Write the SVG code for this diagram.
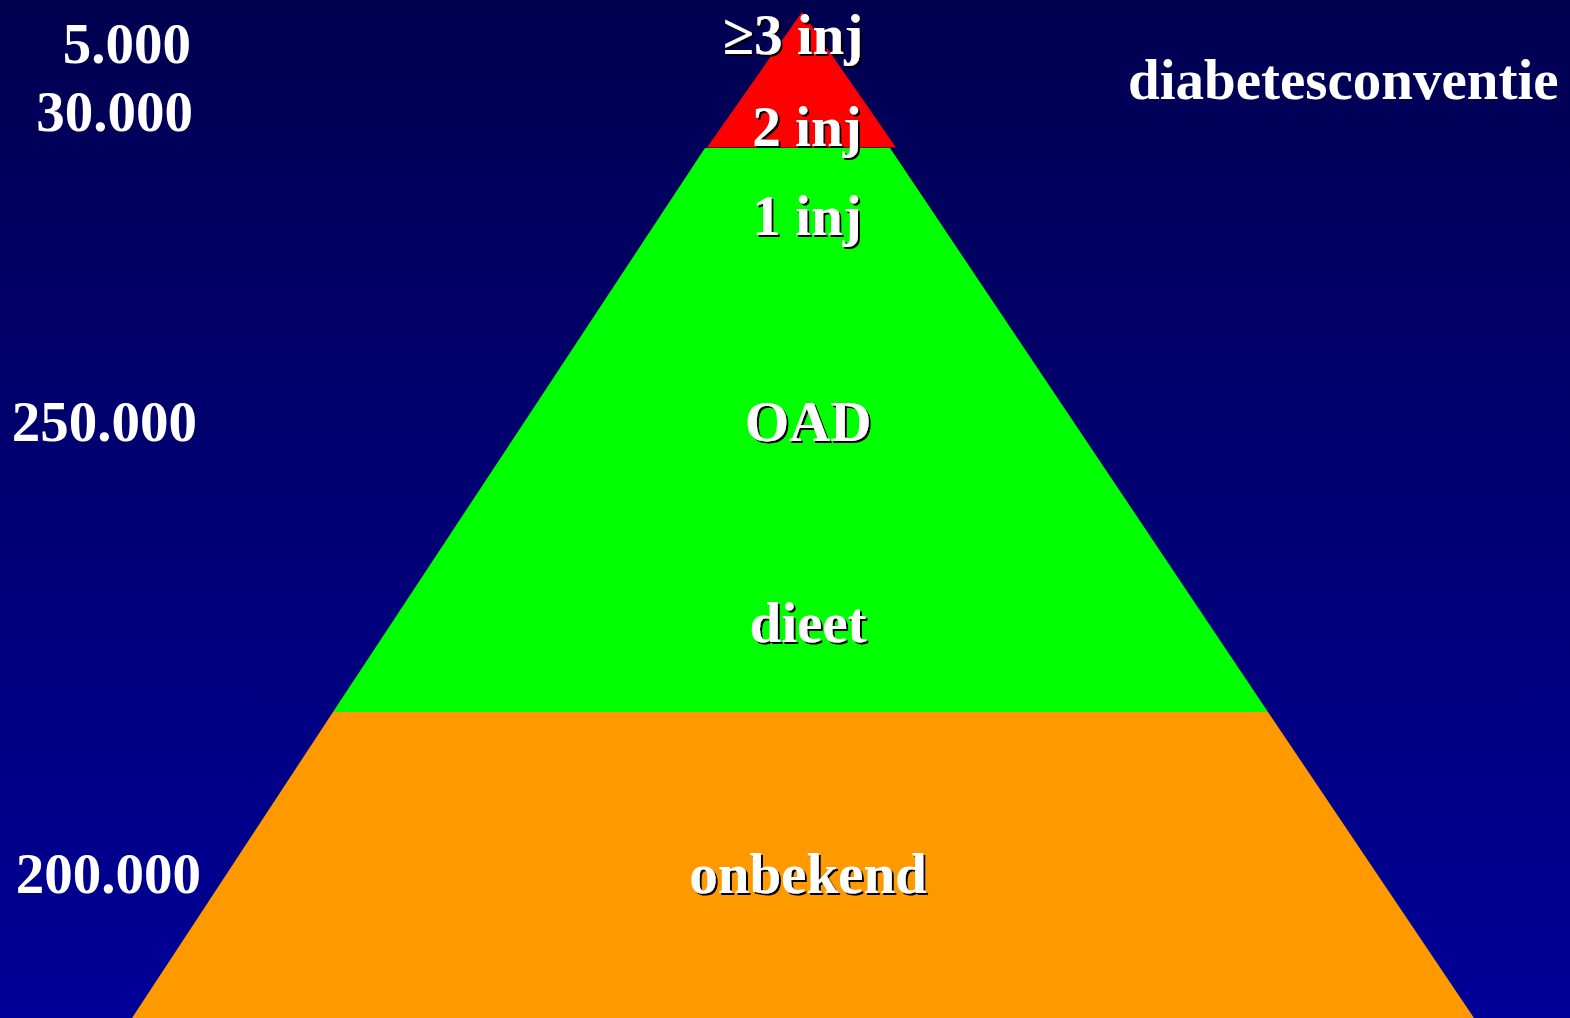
<svg xmlns="http://www.w3.org/2000/svg" width="1570" height="1018" viewBox="0 0 1570 1018">
<defs>
<linearGradient id="bg" x1="0" y1="0" x2="0" y2="1">
<stop offset="0" stop-color="#000050"/>
<stop offset="1" stop-color="#000098"/>
</linearGradient>
<filter id="sh" x="-10%" y="-10%" width="120%" height="130%">
<feDropShadow dx="2" dy="2" stdDeviation="0" flood-color="#000000" flood-opacity="1"/>
</filter>
</defs>
<style>
text{font-family:"Liberation Serif","Times New Roman",serif;font-weight:bold;font-size:57px;fill:#ffffff}
.lbl{text-anchor:middle;filter:url(#sh)}
.num{text-anchor:end}
</style>
<rect x="0" y="0" width="1570" height="1018" fill="url(#bg)"/>
<g id="connectors"/>
<g id="layer-onbekend">
<polygon points="333,712 1268,712 1474,1018 132,1018" fill="#ff9900"/>
<text class="lbl" x="808" y="893">onbekend</text>
</g>
<g id="layer-green">
<polygon points="705,148 890,148 1268,712 333,712" fill="#00ff00"/>
<text class="lbl" x="807" y="235">1 inj</text>
<text class="lbl" x="808" y="441">OAD</text>
<text class="lbl" x="808" y="642">dieet</text>
</g>
<g id="layer-red">
<polygon points="802,12 896,147.5 707,147.5" fill="#ff0000"/>
<text class="lbl" x="807" y="146">2 inj</text>
<text class="lbl" x="793" y="54">≥3 inj</text>
</g>
<g id="numbers">
<text class="num" x="191" y="63">5.000</text>
<text class="num" x="193" y="131">30.000</text>
<text class="num" x="197" y="441">250.000</text>
<text class="num" x="201" y="893">200.000</text>
</g>
<g id="title">
<text x="1128" y="99">diabetesconventie</text>
</g>
</svg>
